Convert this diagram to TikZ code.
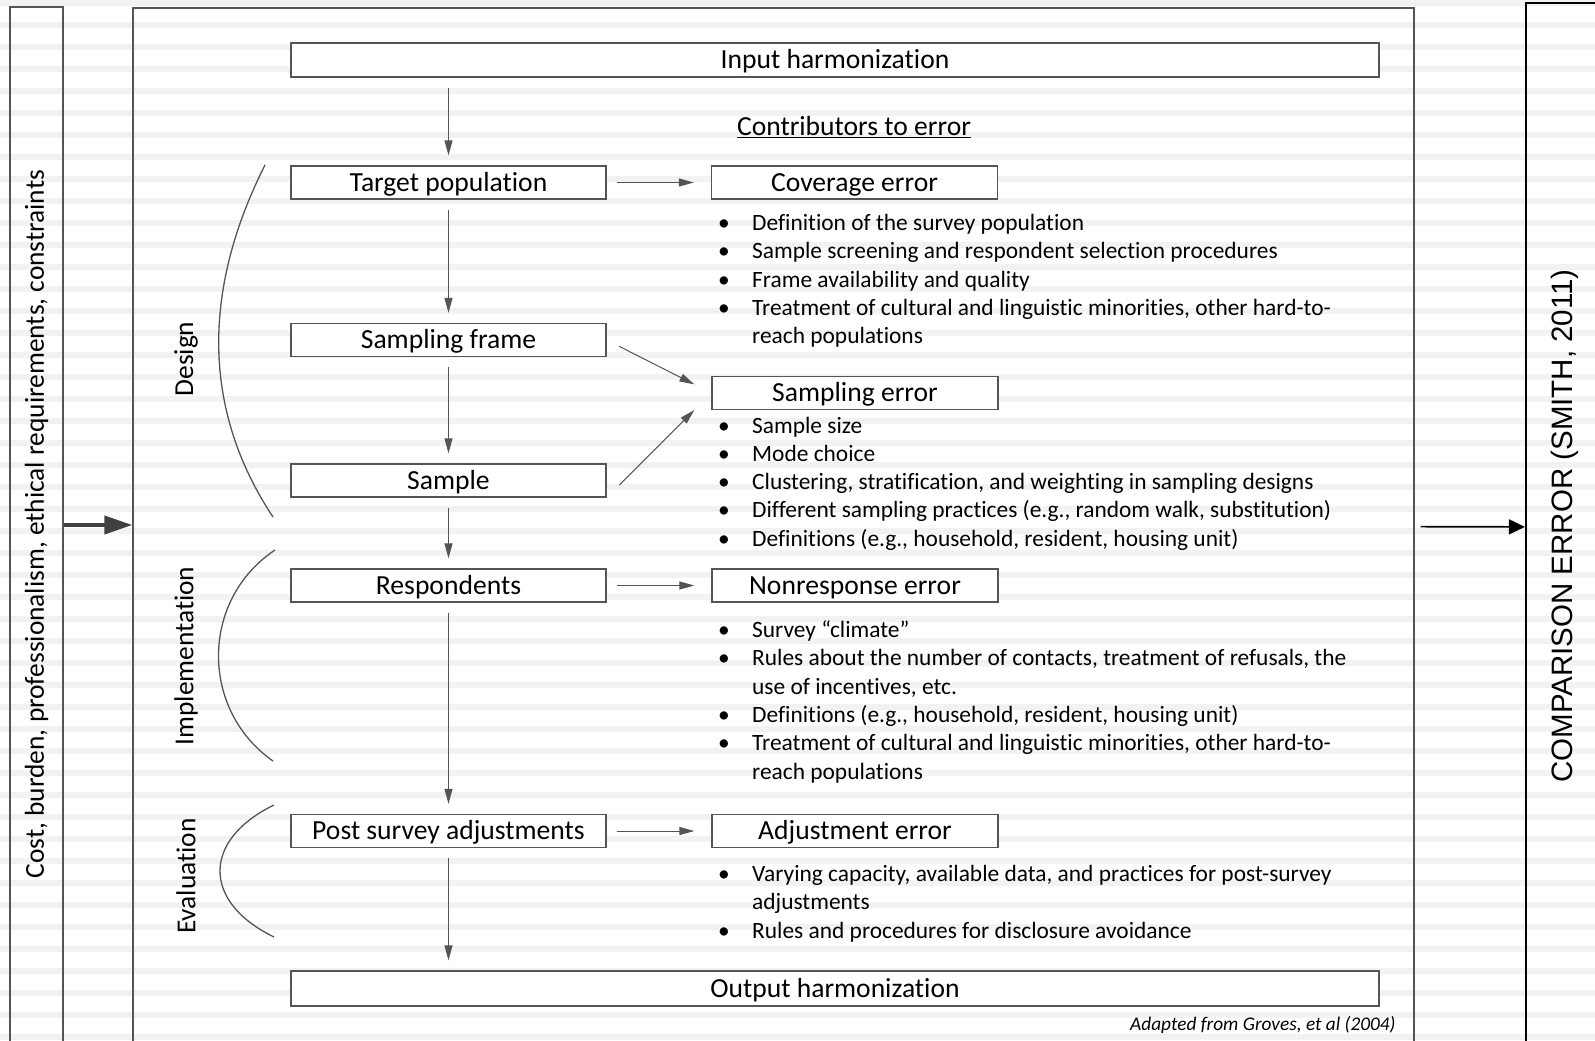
\documentclass[tikz,border=0pt]{standalone}
\usepackage{fontspec}
\setmainfont{Carlito}[Ligatures={NoCommon,NoRare,NoContextual}]
\newfontfamily\arialfont{Liberation Sans}
\usetikzlibrary{arrows.meta,positioning}
\definecolor{stripe}{HTML}{F2F2F2}
\definecolor{linegray}{HTML}{555555}
\tikzstyle{stage}=[rectangle,draw=linegray,fill=white,line width=1.3pt,
	minimum width=315pt,minimum height=33pt,inner sep=0pt,text height=20pt,text depth=2.6pt,
	font=\fontsize{27.6}{32}\selectfont]
\tikzstyle{errbox}=[stage,minimum width=286pt]
\tikzstyle{wide}=[stage,minimum width=1088pt,minimum height=34pt]
\tikzstyle{panel}=[rectangle,draw=linegray,line width=1.3pt,inner sep=0pt]
\tikzstyle{flow}=[draw=linegray,line width=1pt,-{Triangle[length=15pt,width=8pt]},
	shorten <=10pt,shorten >=10pt]
\tikzstyle{bullets}=[anchor=north west,align=left,inner sep=0pt,font=\fontsize{23.4}{28.3}\selectfont]
\tikzstyle{phase}=[rotate=90,font=\fontsize{27.4}{32}\selectfont]
\tikzstyle{phasecurve}=[draw=linegray,line width=1.3pt]
\newcommand{\itm}{\strut\makebox[34pt][l]{\textbullet}}
\newcommand{\cnt}{\hspace*{34pt}}

\begin{document}
\begin{tikzpicture}[x=1pt,y=-1pt]
	\useasboundingbox (0,0) rectangle (1595,1041);
	\clip (0,0) rectangle (1595,1041);
	\foreach \k in {0,...,47}
		\fill[stripe] (0,22*\k) rectangle (1595,22*\k+5.7);

	\node[panel,minimum width=53pt,minimum height=1036pt] (costbox) at (36.5,525) {};
	\node[panel,minimum width=1281pt,minimum height=1034pt] (mainbox) at (773.5,525) {};
	\node[panel,draw=black,line width=2.2pt,minimum width=80pt,minimum height=1048pt] (comparebox) at (1566,527) {};
	\node[rotate=90,font=\fontsize{27.4}{32}\selectfont] (costtext) at (36.5,524)
		{Cost, burden, professionalism, ethical requirements, constraints};
	\node[rotate=90,font=\arialfont\fontsize{29.5}{34}\selectfont] (comparetext) at (1564.5,526)
		{COMPARISON ERROR (SMITH, 2011)};

	\node[wide] (input) at (835,60) {Input harmonization};
	\node[font=\fontsize{27.6}{32}\selectfont] (contrib) at (854,127) {\underline{Contributors to error}};
	\node[stage] (target) at (448.5,182.5) {Target population};
	\node[errbox] (coverage) at (854.5,182.5) {Coverage error};
	\node[stage] (frame) at (448.5,340) {Sampling frame};
	\node[errbox] (samplingerr) at (855,393) {Sampling error};
	\node[stage] (sample) at (448.5,480.5) {Sample};
	\node[stage] (resp) at (448.5,585.5) {Respondents};
	\node[errbox] (nonresp) at (855,585.5) {Nonresponse error};
	\node[stage] (post) at (448.5,831) {Post survey adjustments};
	\node[errbox] (adjerr) at (855,831) {Adjustment error};
	\node[wide,minimum height=35pt] (output) at (835,988.5) {Output harmonization};

	\node[bullets] (coverlist) at (718,210.5) {\itm Definition of the survey population\\
		\itm Sample screening and respondent selection procedures\\
		\itm Frame availability and quality\\
		\itm Treatment of cultural and linguistic minorities, other hard-to-\\
		\cnt reach populations};
	\node[bullets] (samplelist) at (718,413) {\itm Sample size\\
		\itm Mode choice\\
		\itm Clustering, stratification, and weighting in sampling designs\\
		\itm Different sampling practices (e.g., random walk, substitution)\\
		\itm Definitions (e.g., household, resident, housing unit)};
	\node[bullets] (nonresplist) at (718,617.5) {\itm Survey “climate”\\
		\itm Rules about the number of contacts, treatment of refusals, the\\
		\cnt use of incentives, etc.\\
		\itm Definitions (e.g., household, resident, housing unit)\\
		\itm Treatment of cultural and linguistic minorities, other hard-to-\\
		\cnt reach populations};
	\node[bullets] (adjlist) at (718,861.5) {\itm Varying capacity, available data, and practices for post-survey\\
		\cnt adjustments\\
		\itm Rules and procedures for disclosure avoidance};

	\node[phase] (design) at (186,359) {Design};
	\node[phase] (implement) at (186,656) {Implementation};
	\node[phase] (evaluate) at (186,876) {Evaluation};
	\draw[phasecurve] (265,165) .. controls (202,290) and (202,410) .. (273,517);
	\draw[phasecurve] (275,550) .. controls (200,600) and (200,710) .. (273,761);
	\draw[phasecurve] (274,805) .. controls (202,840) and (202,902) .. (274,937);

	\node[anchor=base east,font=\itshape\fontsize{19.3}{23}\selectfont] (source) at (1399,1030)
		{Adapted from Groves, et al (2004)};

	\path (input.south -| target) edge[flow] (target)
		(target) edge[flow] (frame)
		(frame) edge[flow] (sample)
		(sample) edge[flow] (resp)
		(resp) edge[flow] (post)
		(post) edge[flow] (output.north -| post);
	\path (target) edge[flow,shorten >=17pt] (coverage)
		(frame.east) edge[flow,shorten <=14pt,shorten >=19pt] (samplingerr.west)
		(sample.south east) edge[flow,shorten <=18pt,shorten >=24pt] (samplingerr.west)
		(resp) edge[flow,shorten >=17pt] (nonresp)
		(post) edge[flow,shorten >=17pt] (adjerr);

	\draw[draw=darkgray,line width=4pt,-{Triangle[length=28pt,width=18pt]}] (costbox) -- (mainbox);
	\draw[line width=1.7pt,shorten <=6pt,-{Triangle[length=16pt,width=15pt]}] (mainbox) -- (comparebox);
\end{tikzpicture}
\end{document}
